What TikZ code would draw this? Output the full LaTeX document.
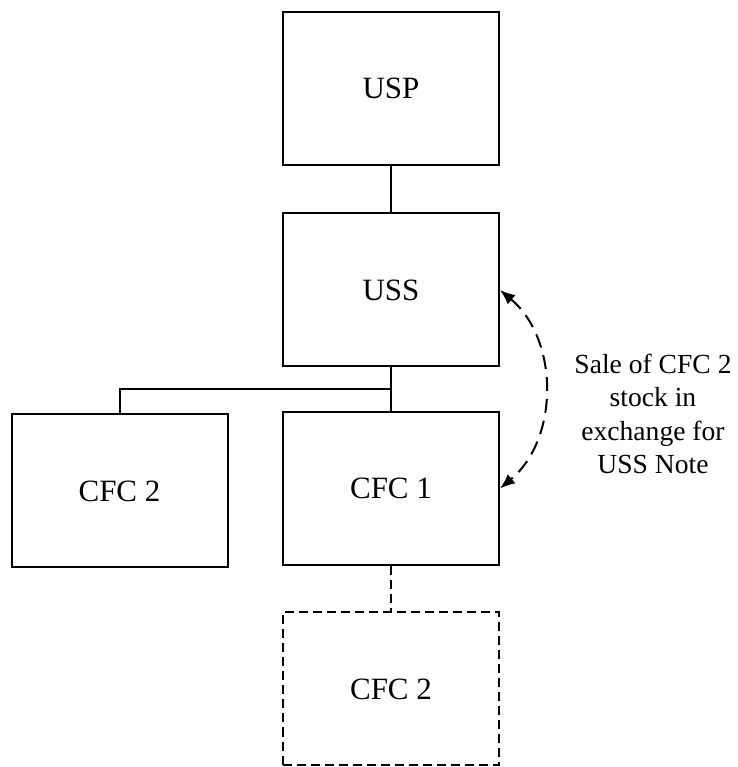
\documentclass[tikz,border=0pt]{standalone}
\usepackage{fontspec}
\setmainfont{Liberation Serif}
\usepackage{tikz}
\usetikzlibrary{calc,positioning,arrows.meta}

\begin{document}
\begin{tikzpicture}[x=0.5pt,y=0.5pt,line width=1pt,
  entity/.style={draw, rectangle, minimum width=108pt, minimum height=76.5pt,
    font=\fontsize{15.5}{18}\selectfont},
  proposed/.style={entity, dash pattern=on 4.5pt off 2.5pt}]
\useasboundingbox (0,0) rectangle (738,767);
\node [entity] (usp) at (391,678.5) {USP};
\node [entity] (uss) at (391,477) {USS};
\node [entity] (cfcone) at (391,278.5) {CFC 1};
\node [entity] (cfctwo) at (119.5,276) {CFC 2};
\node [proposed] (cfctwonew) at (391,78) {CFC 2};
\coordinate (split) at ($(uss.south)!0.5!(cfcone.north)$);
\draw (usp) -- (uss);
\draw (uss) -- (cfcone);
\draw (cfctwo.north) |- (split);
\draw [dash pattern=on 4.5pt off 2.5pt] (cfcone) -- (cfctwonew);
\draw [{Latex[length=7.5pt,width=6pt]}-{Latex[length=7.5pt,width=6pt]}, dash pattern=on 7pt off 4pt]
  (uss.east) to [bend left=50] (cfcone.east);
\node [align=center, font=\fontsize{13.8}{16.7}\selectfont] (sale) at (653,353)
  {Sale of CFC 2\\stock in\\exchange for\\USS Note};
\end{tikzpicture}
\end{document}
